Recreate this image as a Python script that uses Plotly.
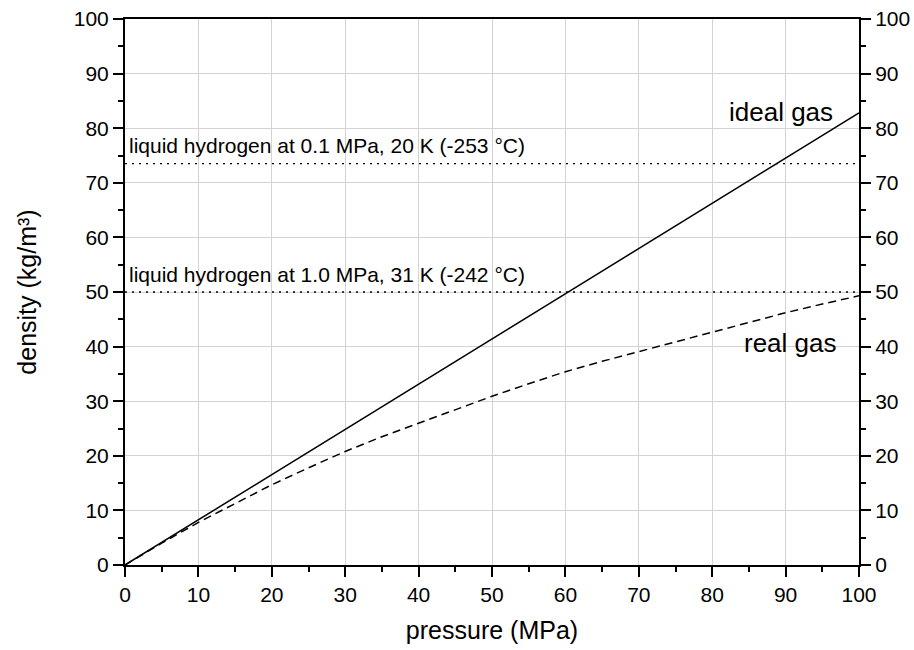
import plotly.graph_objects as go

# pressure grid (MPa) and hydrogen densities (kg/m³) at room temperature
pressure = [0, 5, 10, 15, 20, 25, 30, 35, 40, 45, 50, 55, 60, 65, 70, 75, 80, 85, 90, 95, 100]
ideal_density = [0, 4.14, 8.28, 12.42, 16.56, 20.70, 24.84, 28.98, 33.12, 37.26, 41.40,
                 45.54, 49.68, 53.82, 57.96, 62.10, 66.24, 70.38, 74.52, 78.66, 82.8]
real_density = [0, 4.0, 7.8, 11.3, 14.7, 17.8, 20.8, 23.5, 26.0, 28.5, 30.9,
                33.2, 35.4, 37.3, 39.1, 40.9, 42.7, 44.5, 46.2, 47.8, 49.3]

# liquid hydrogen reference densities
liquid_levels = [73.5, 50.0]
liquid_labels = ["liquid hydrogen at 0.1 MPa, 20 K (-253 °C)",
                 "liquid hydrogen at 1.0 MPa, 31 K (-242 °C)"]
x_span = [0, 100]

FONT = "Liberation Sans, Arial, sans-serif"

fig = go.Figure()

for level in liquid_levels:
    fig.add_trace(go.Scatter(x=x_span, y=[level, level], mode="lines",
                             line=dict(color="black", width=1.3, dash="2px,5px"),
                             hoverinfo="skip", showlegend=False))

fig.add_trace(go.Scatter(x=pressure, y=ideal_density, mode="lines", name="ideal gas",
                         line=dict(color="black", width=1.5), showlegend=False))
fig.add_trace(go.Scatter(x=pressure, y=real_density, mode="lines", name="real gas",
                         line=dict(color="black", width=1.5, dash="8px,5px"), showlegend=False))

# invisible trace so the right-hand axis is drawn
fig.add_trace(go.Scatter(x=[0], y=[0], yaxis="y2", mode="markers",
                         marker=dict(opacity=0), hoverinfo="skip", showlegend=False))

for level, label in zip(liquid_levels, liquid_labels):
    fig.add_annotation(x=0.3, y=level, text=label, showarrow=False,
                       xanchor="left", yanchor="middle", yshift=18,
                       font=dict(family=FONT, size=21, color="black"))

fig.add_annotation(x=89.4, y=83.0, text="ideal gas", showarrow=False,
                   xanchor="center", yanchor="middle",
                   font=dict(family=FONT, size=26, color="black"))
fig.add_annotation(x=90.7, y=40.7, text="real gas", showarrow=False,
                   xanchor="center", yanchor="middle",
                   font=dict(family=FONT, size=26, color="black"))

minor = dict(dtick=5, ticklen=5, tickwidth=2, tickcolor="black", ticks="outside", showgrid=False)

fig.update_layout(
    width=914, height=650,
    margin=dict(l=125, r=55, t=19, b=85),
    paper_bgcolor="white", plot_bgcolor="white",
    font=dict(family=FONT, size=21, color="black"),
    xaxis=dict(range=[0, 100], dtick=10, tick0=0, ticks="outside", ticklen=10, tickwidth=2,
               tickcolor="black", showline=True, linewidth=2, linecolor="black", mirror=True,
               showgrid=True, gridcolor="#d3d3d3", gridwidth=1, zeroline=False,
               minor=minor, tickfont=dict(size=21), automargin=False,
               title=dict(text="pressure (MPa)", font=dict(size=25), standoff=16)),
    yaxis=dict(range=[0, 100], dtick=10, tick0=0, ticks="outside", ticklen=10, tickwidth=2,
               tickcolor="black", showline=True, linewidth=2, linecolor="black",
               showgrid=True, gridcolor="#d3d3d3", gridwidth=1, zeroline=False,
               minor=minor, tickfont=dict(size=21), automargin=False,
               title=dict(text="density (kg/m³)", font=dict(size=25), standoff=30)),
    yaxis2=dict(range=[0, 100], dtick=10, tick0=0, overlaying="y", side="right", anchor="x",
                ticks="outside", ticklen=10, tickwidth=2, tickcolor="black",
                showline=True, linewidth=2, linecolor="black", showgrid=False, zeroline=False,
                minor=minor, tickfont=dict(size=21), automargin=False),
)

fig.write_html("out.html")
